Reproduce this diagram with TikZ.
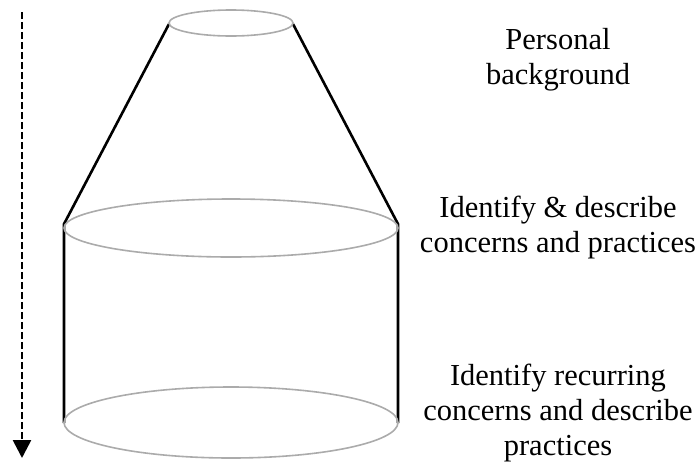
\documentclass[tikz,border=0pt]{standalone}
\usepackage{fontspec}
\setmainfont{Liberation Serif}
\usetikzlibrary{arrows.meta}
\begin{document}
\begin{tikzpicture}[x=1pt,y=-1pt,
  rim/.style={draw=black!33, line width=1.6pt},
  side/.style={draw=black, line width=2.6pt},
  flow/.style={line width=2.7pt, dash pattern=on 7pt off 3pt, -{Triangle[length=18pt,width=18pt]}},
  label/.style={align=center, font=\fontsize{30.5}{35}\selectfont, inner sep=0pt}]
\useasboundingbox (0,0) rectangle (700,461);
% cone and cylinder outline
\coordinate (tl) at (169,24);
\coordinate (tr) at (293,24);
\coordinate (ml) at (64,224);
\coordinate (mr) at (398,224);
\coordinate (bl) at (64,423);
\coordinate (br) at (398,423);
\draw[side] (tl) -- (ml) -- (bl);
\draw[side] (tr) -- (mr) -- (br);
% level rims
\draw[rim] (231,23) ellipse [x radius=62pt, y radius=13pt];
\draw[rim] (231,228) ellipse [x radius=167pt, y radius=29pt];
\draw[rim] (231,422.5) ellipse [x radius=167pt, y radius=35.5pt];
% direction of the process
\coordinate (astart) at (22,12);
\coordinate (aend) at (22,458);
\draw[flow] (astart) -- (aend);
% level labels
\node[label] (l1) at (558,60) {Personal\\background};
\node[label] (l2) at (558,228) {Identify \& describe\\concerns and practices};
\node[label] (l3) at (558,413) {Identify recurring\\concerns and describe\\practices};
\end{tikzpicture}
\end{document}
